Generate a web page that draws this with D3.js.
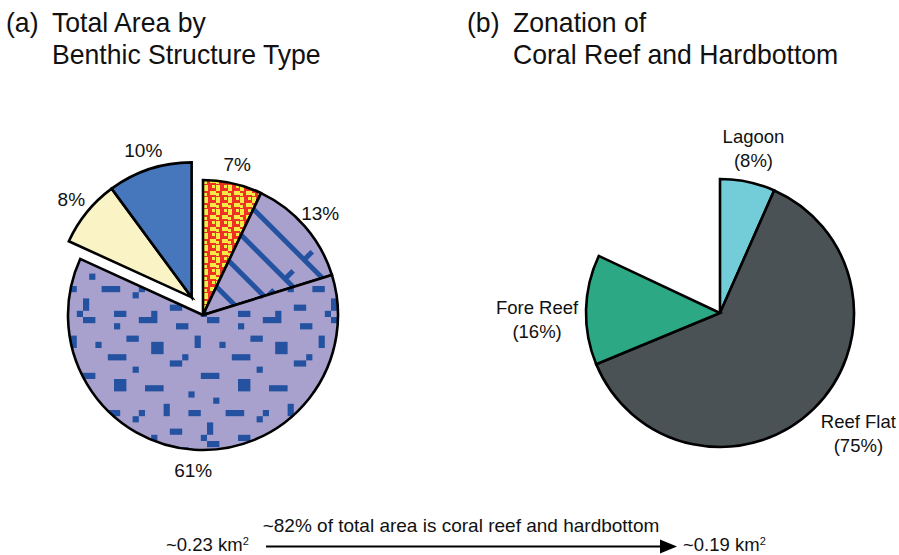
<!DOCTYPE html>
<html>
<head>
<meta charset="utf-8">
<script src="https://cdn.jsdelivr.net/npm/d3@7/dist/d3.min.js"></script>
<style>
  html, body { margin: 0; padding: 0; background: #fff; }
  text { font-family: "Liberation Sans", Arial, sans-serif; fill: #111; }
</style>
</head>
<body>
<svg id="chart" width="899" height="555"></svg>
<script>
// Panel (a): total area by benthic structure type (percent)
const typeLabels  = ["7%", "13%", "61%", "8%", "10%"];
const typeValues  = [7, 13, 61, 8, 10];
const typeFills   = ["url(#checker)", "url(#hatch)", "url(#blocks)", "#f9f3c5", "#4677bd"];
const typeExploded = [false, false, false, true, true];

// Panel (b): zonation of coral reef and hardbottom (percent)
const zoneNames  = ["Lagoon", "Reef Flat", "Fore Reef"];
const zoneValues = [8, 75, 16];
const zoneFills  = ["#72cdd8", "#4b5256", "#2ca884"];
const reefShare  = 0.82;   // share of total area that is coral reef and hardbottom

// label placement tweaks for panel (b): [radius, angle shift in radians]
const zoneLabelPlace = [[170, -0.01], [182, -0.09], [183, -0.05]];

// Block motif of the large slice (grid cells: col, row, w, h)
const blockMotif = [
  [0,0,2,1],[5,1,1,1],[9,0,3,1],[15,1,2,1],[2,4,1,1],[11,4,2,2],[18,3,1,2],
  [4,6,3,1],[8,8,1,1],[14,7,2,1],[0,9,2,1],[19,9,1,1],[5,10,2,2],[10,11,3,1],
  [17,12,1,1],[1,13,1,1],[13,14,1,2],[3,15,3,1],[17,15,2,1],[8,16,1,1],
  [9,15,1,1],[14,18,2,1],[0,17,1,2],[5,19,2,1],[19,19,1,1],[11,19,1,1],
  [7,3,2,1],[16,6,1,1]
];

const svg = d3.select("#chart");
const defs = svg.append("defs");

// red / yellow plaid check
const chk = defs.append("pattern").attr("id", "checker")
  .attr("patternUnits", "userSpaceOnUse").attr("width", 12).attr("height", 12).attr("x", 1).attr("y", 2);
chk.append("rect").attr("width", 12).attr("height", 12).attr("fill", "#ee3124");
[[0,0,4,6],[6,6,6,4],[8,0,3,3],[0,8,3,3]].forEach(r =>
  chk.append("rect").attr("x", r[0]).attr("y", r[1]).attr("width", r[2]).attr("height", r[3]).attr("fill", "#f4ea45"));

// lavender with diagonal blue bars
const hatch = defs.append("pattern").attr("id", "hatch")
  .attr("patternUnits", "userSpaceOnUse").attr("width", 27).attr("height", 80)
  .attr("patternTransform", "rotate(-45)");
hatch.append("rect").attr("width", 27).attr("height", 80).attr("fill", "#a9a1cd");
hatch.append("rect").attr("x", 0).attr("width", 5).attr("height", 80).attr("fill", "#2452a0");
hatch.append("rect").attr("x", 5).attr("y", 30).attr("width", 9).attr("height", 5).attr("fill", "#2452a0");

// lavender with scattered blue blocks
const cell = 6.2;
const blk = defs.append("pattern").attr("id", "blocks")
  .attr("patternUnits", "userSpaceOnUse").attr("width", cell * 20).attr("height", cell * 20)
  .attr("x", 4).attr("y", 2);
blk.append("rect").attr("width", cell * 20).attr("height", cell * 20).attr("fill", "#a9a1cd");
blk.selectAll("rect.b").data(blockMotif).join("rect").attr("class", "b")
  .attr("x", d => d[0] * cell).attr("y", d => d[1] * cell)
  .attr("width", d => d[2] * cell).attr("height", d => d[3] * cell)
  .attr("fill", "#2452a0");

// ---------- titles (slightly condensed) ----------
function line(x, y, s) {
  const t = svg.append("text").attr("x", x).attr("y", y).attr("font-size", 28).text(s);
  const w = t.node().getComputedTextLength();
  t.attr("textLength", w * 0.95).attr("lengthAdjust", "spacingAndGlyphs");
}
function title(x, lines) {
  line(x, 32, lines[0]);
  line(x + 46, 32, lines[1]);
  line(x + 46, 64, lines[2]);
}
title(6, ["(a)", "Total Area by", "Benthic Structure Type"]);
title(467, ["(b)", "Zonation of", "Coral Reef and Hardbottom"]);

// ---------- panel (a) ----------
const R = 135;
const ca = [203, 315];
const pieA = d3.pie().sort(null).value(d => d)(typeValues);
const arcA = d3.arc().innerRadius(0).outerRadius(R);
const lblA = d3.arc().innerRadius(155).outerRadius(155);

// exploded group moves outward along its combined mid angle
const exp = pieA.filter((d, i) => typeExploded[i]);
const expMid = (d3.min(exp, d => d.startAngle) + d3.max(exp, d => d.endAngle)) / 2;
const expDist = 21;
const off = [Math.sin(expMid) * expDist, -Math.cos(expMid) * expDist];

const gA = svg.append("g").attr("transform", `translate(${ca[0]},${ca[1]})`);
const sliceA = gA.selectAll("g.s").data(pieA).join("g").attr("class", "s")
  .attr("transform", (d, i) => typeExploded[i] ? `translate(${off[0]},${off[1]})` : null);
sliceA.append("path").attr("d", arcA)
  .attr("fill", (d, i) => typeFills[i])
  .attr("stroke", "#000").attr("stroke-width", 2.6).attr("stroke-linejoin", "miter");
sliceA.append("text")
  .attr("transform", d => `translate(${lblA.centroid(d)})`)
  .attr("text-anchor", "middle").attr("dy", "0.36em").attr("font-size", 19)
  .text((d, i) => typeLabels[i]);

// ---------- panel (b) ----------
const cb = [720, 313];
const pieB = d3.pie().sort(null).startAngle(0).endAngle(2 * Math.PI * reefShare).value(d => d)(zoneValues);
const arcB = d3.arc().innerRadius(0).outerRadius(134);

const gB = svg.append("g").attr("transform", `translate(${cb[0]},${cb[1]})`);
gB.selectAll("path").data(pieB).join("path").attr("d", arcB)
  .attr("fill", (d, i) => zoneFills[i])
  .attr("stroke", "#000").attr("stroke-width", 2.6);
const tb = gB.selectAll("text").data(pieB).join("text")
  .attr("transform", (d, i) => {
    const [r, da] = zoneLabelPlace[i];
    const a = (d.startAngle + d.endAngle) / 2 + da;
    return `translate(${Math.sin(a) * r},${-Math.cos(a) * r})`;
  })
  .attr("text-anchor", "middle").attr("font-size", 18.5);
tb.append("tspan").attr("x", 0).attr("dy", "-0.2em").text((d, i) => zoneNames[i]);
tb.append("tspan").attr("x", 0).attr("dy", "1.3em").text((d, i) => `(${zoneValues[i]}%)`);

// ---------- bottom note with arrow ----------
const note = svg.append("g");
note.append("text").attr("x", 461).attr("y", 532).attr("text-anchor", "middle").attr("font-size", 19)
  .text(`~${Math.round(reefShare * 100)}% of total area is coral reef and hardbottom`);
const km1 = note.append("text").attr("x", 166).attr("y", 551).attr("font-size", 18.5);
km1.append("tspan").text("~0.23 km");
km1.append("tspan").attr("font-size", 11).attr("dy", -6).text("2");
const km2 = note.append("text").attr("x", 683).attr("y", 551).attr("font-size", 18.5);
km2.append("tspan").text("~0.19 km");
km2.append("tspan").attr("font-size", 11).attr("dy", -6).text("2");
note.append("line").attr("x1", 266).attr("x2", 664).attr("y1", 546.5).attr("y2", 546.5)
  .attr("stroke", "#000").attr("stroke-width", 2);
note.append("path").attr("d", "M660,539.5 L677,546.5 L660,553.5 Z").attr("fill", "#000");
</script>
</body>
</html>
